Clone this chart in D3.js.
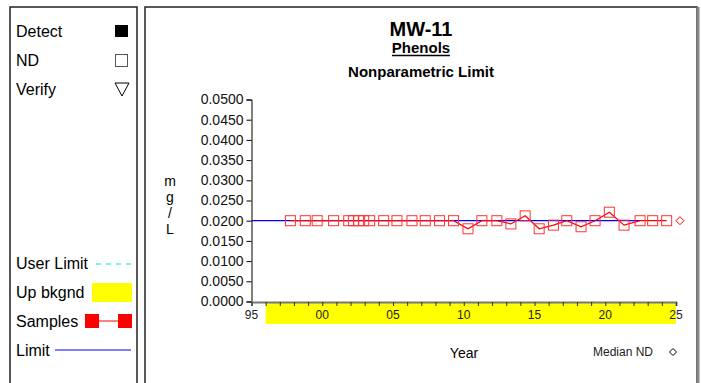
<!DOCTYPE html>
<html><head><meta charset="utf-8">
<script src="https://cdn.jsdelivr.net/npm/d3@7/dist/d3.min.js"></script>
<style>body{margin:0;background:#fff;}svg{display:block;font-family:Arial,"Liberation Sans",sans-serif;}</style>
</head><body>
<svg id="c" width="701" height="383"></svg>
<script>
// Data
const sampleYears = [1997.75,1998.8,1999.64,2000.8,2001.87,2002.2,2002.57,2002.93,2003.35,2004.34,2005.28,2006.34,2007.28,2008.29,2009.28,2010.3,2011.28,2012.34,2013.33,2014.34,2015.33,2016.34,2017.28,2018.29,2019.28,2020.29,2021.33,2022.46,2023.35,2024.34];
const sampleValues = [0.02,0.02,0.02,0.02,0.02,0.02,0.02,0.02,0.02,0.02,0.02,0.02,0.02,0.02,0.02,0.018,0.02,0.02,0.0192,0.0212,0.018,0.0189,0.02,0.0185,0.02,0.0221,0.0189,0.02,0.02,0.02];
const limitValue = 0.02;
const limitRange = [1995, 2022.46];
const medianND = {year: 2025.28, value: 0.02};
const upBkgnd = [1996, 2025];
const yTicks = [0,0.005,0.01,0.015,0.02,0.025,0.03,0.035,0.04,0.045,0.05];
const xTickLabels = ["95","00","05","10","15","20","25"];
const titleText = "MW-11", subTitle = "Phenols", limitTitle = "Nonparametric Limit";

const svg = d3.select("#c");
// panels
svg.append("rect").attr("x",10).attr("y",7).attr("width",127).attr("height",390).attr("fill","none").attr("stroke","#222").attr("stroke-width",1.5);
svg.append("rect").attr("x",145).attr("y",7).attr("width",552).attr("height",390).attr("fill","none").attr("stroke","#222").attr("stroke-width",1.5);
svg.append("line").attr("x1",698).attr("x2",698).attr("y1",7).attr("y2",383).attr("stroke","#888").attr("stroke-width",3);

// legend
const lg = svg.append("g").attr("font-size",16).attr("fill","#000");
lg.append("text").attr("x",16).attr("y",37).text("Detect");
lg.append("rect").attr("x",115).attr("y",25).attr("width",13).attr("height",12).attr("fill","#000");
lg.append("text").attr("x",16).attr("y",66).text("ND");
lg.append("rect").attr("x",115.5).attr("y",54.5).attr("width",12).attr("height",12).attr("fill","none").attr("stroke","#555").attr("stroke-width",1);
lg.append("text").attr("x",16).attr("y",95).text("Verify");
lg.append("path").attr("d","M115,83 L129,83 L122,96 Z").attr("fill","none").attr("stroke","#000");
lg.append("text").attr("x",16).attr("y",269).text("User Limit");
lg.append("line").attr("x1",96).attr("x2",131).attr("y1",264).attr("y2",264).attr("stroke","#00e5ee").attr("stroke-dasharray","5,5");
lg.append("text").attr("x",16).attr("y",298).text("Up bkgnd");
lg.append("rect").attr("x",92).attr("y",283).attr("width",40).attr("height",19).attr("fill","#ffff00");
lg.append("text").attr("x",16).attr("y",327).text("Samples");
lg.append("line").attr("x1",90).attr("x2",125).attr("y1",321).attr("y2",321).attr("stroke","red");
lg.append("rect").attr("x",85).attr("y",314).attr("width",14).attr("height",14).attr("fill","red");
lg.append("rect").attr("x",118).attr("y",314).attr("width",14).attr("height",14).attr("fill","red");
lg.append("text").attr("x",16).attr("y",356).text("Limit");
lg.append("line").attr("x1",55).attr("x2",131).attr("y1",350).attr("y2",350).attr("stroke","#0000ff");

// titles
const cx = 421;
svg.append("text").attr("x",cx).attr("y",36).attr("text-anchor","middle").attr("font-size",20).attr("font-weight","bold").text(titleText);
svg.append("text").attr("x",cx).attr("y",53).attr("text-anchor","middle").attr("font-size",15).attr("font-weight","bold").text(subTitle);
svg.append("line").attr("x1",cx-29).attr("x2",cx+29).attr("y1",55.5).attr("y2",55.5).attr("stroke","#000").attr("stroke-width",1.3);
svg.append("text").attr("x",cx).attr("y",77).attr("text-anchor","middle").attr("font-size",15).attr("font-weight","bold").text(limitTitle);

// scales
const x = d3.scaleLinear().domain([1995,2025]).range([251.5,676]);
const y = d3.scaleLinear().domain([0,0.05]).range([301.5,99.5]);

// up background band
svg.append("rect").attr("x",x(upBkgnd[0])).attr("y",303).attr("width",x(upBkgnd[1])-x(upBkgnd[0])).attr("height",21).attr("fill","#ffff00");

// y axis
const ya = svg.append("g").attr("transform","translate(251.5,0)")
  .call(d3.axisLeft(y).tickValues(yTicks).tickFormat(d3.format(".4f")).tickSize(5).tickPadding(3));
ya.select(".domain").attr("stroke","#000");
ya.selectAll("text").attr("font-size",14).attr("font-family","Arial,'Liberation Sans',sans-serif").attr("fill","#111");

// x axis
const xa = svg.append("g").attr("transform","translate(0,302)")
  .call(d3.axisBottom(x).ticks(30).tickSize(4).tickFormat(()=>""));
xa.select(".domain").attr("stroke","#777").attr("stroke-width",2);
xa.selectAll(".tick line").attr("stroke","#333");
const labYears = d3.range(1995,2026,5);
svg.append("g").selectAll("text").data(labYears).join("text")
  .attr("x",d=>x(d)).attr("y",319).attr("text-anchor","middle").attr("font-size",12).attr("fill","#222")
  .text((d,i)=>xTickLabels[i]);

// y label
["m","g","/","L"].forEach((c,i)=>svg.append("text").attr("x",170).attr("y",186+i*16).attr("text-anchor","middle").attr("font-size",14).text(c));

// limit line
svg.append("line").attr("x1",x(limitRange[0])).attr("x2",x(limitRange[1])).attr("y1",y(limitValue)).attr("y2",y(limitValue)).attr("stroke","#0000ff").attr("stroke-width",1.2);

// samples
const pts = sampleYears.map((d,i)=>({x:d,v:sampleValues[i]}));
svg.append("path").datum(pts).attr("fill","none").attr("stroke","red").attr("stroke-width",1.2)
  .attr("d",d3.line().x(d=>x(d.x)).y(d=>y(d.v)));
svg.append("g").selectAll("rect").data(pts).join("rect")
  .attr("x",d=>x(d.x)-5).attr("y",d=>y(d.v)-5).attr("width",10).attr("height",10)
  .attr("fill","none").attr("stroke","#ff3333").attr("stroke-width",1);

// median ND
svg.append("path").attr("transform",`translate(${x(medianND.year)},${y(medianND.value)})`)
  .attr("d","M0,-4 L4,0 L0,4 L-4,0 Z").attr("fill","none").attr("stroke","red");

// Year + median ND legend
svg.append("text").attr("x",464).attr("y",358).attr("text-anchor","middle").attr("font-size",14).text("Year");
svg.append("text").attr("x",593).attr("y",356).attr("font-size",12).attr("fill","#222").text("Median ND");
svg.append("path").attr("transform","translate(673,352)").attr("d","M0,-3.5 L3.5,0 L0,3.5 L-3.5,0 Z").attr("fill","none").attr("stroke","#000");
</script>
</body></html>
